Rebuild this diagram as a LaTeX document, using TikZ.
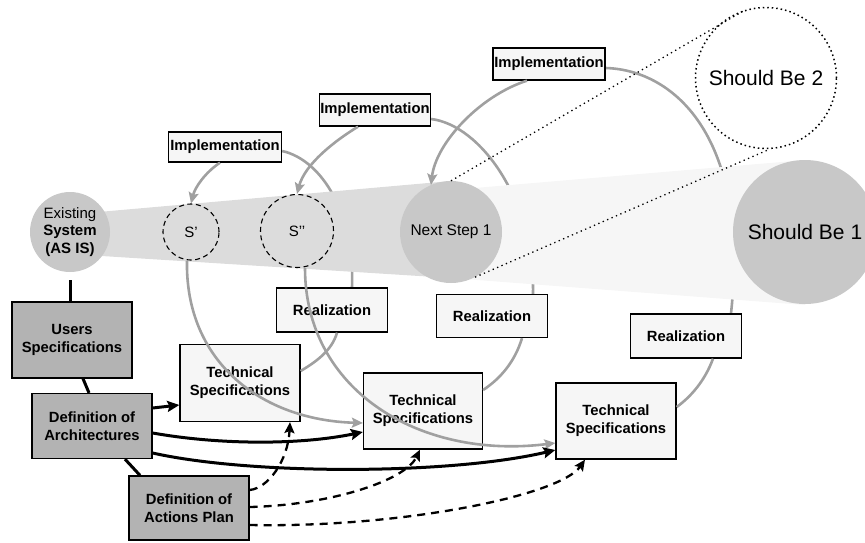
\documentclass[tikz,border=0pt]{standalone}
\usepackage{fontspec}
\setmainfont{Liberation Sans}
\usetikzlibrary{arrows.meta,calc}
\pgfdeclarelayer{under}
\pgfdeclarelayer{band}
\pgfsetlayers{under,band,main}
\definecolor{arcgray}{HTML}{A0A0A0}
\definecolor{boxfill}{HTML}{F6F6F6}
\definecolor{statefill}{HTML}{B3B3B3}
\definecolor{circfill}{HTML}{C8C8C8}
\definecolor{bandone}{HTML}{DCDCDC}
\definecolor{bandtwo}{HTML}{F6F6F6}
\tikzset{
  lbox/.style={draw=black, line width=1.3pt, fill=boxfill, inner sep=0pt, align=center, font=\fontsize{14.8}{18}\selectfont\bfseries},
  gbox/.style={lbox, fill=statefill},
  statec/.style={circle, fill=circfill, inner sep=0pt, align=center, font=\fontsize{15}{17.5}\selectfont},
  subc/.style={circle, draw=black, line width=1.1pt, dash pattern=on 5pt off 3.5pt, inner sep=0pt, font=\fontsize{15}{17.5}\selectfont},
  garc/.style={draw=arcgray, line width=2.6pt},
  garrow/.style={garc, -{Stealth[length=11pt,width=10pt,inset=2pt]}},
  blk/.style={draw=black, line width=3pt},
  barrow/.style={blk, -{Stealth[length=12pt,width=11pt,inset=2pt]}},
  dsh/.style={draw=black, line width=2.3pt, dash pattern=on 8pt off 6pt, -{Stealth[length=11pt,width=10pt,inset=2pt]}},
  dotl/.style={draw=black, line width=1.3pt, dash pattern=on 1.3pt off 3.5pt},
}
\begin{document}
\begin{tikzpicture}[x=1pt,y=-1pt]
\useasboundingbox (0,0) rectangle (865,542);
\clip (0,0) rectangle (865,542);

% circles
\node[statec, minimum size=80pt] (exist) at (70,232) {Existing\\\textbf{System}\\\textbf{(AS IS)}};
\node[subc, minimum size=56pt] (s1) at (191,232) {S’};
\node[subc, minimum size=73pt] (s2) at (297,231) {S’’};
\node[statec, minimum size=102pt, font=\fontsize{15.5}{18}\selectfont] (next) at (451,232) {Next Step 1};
\node[statec, minimum size=144pt, font=\fontsize{21}{24}\selectfont] (sb1) at (805,232) {Should Be 1};
\node[circle, draw=black, line width=1.5pt, dash pattern=on 1.5pt off 3pt, fill=white, minimum size=141pt, inner sep=0pt, font=\fontsize{21}{24}\selectfont] (sb2) at (766,78) {Should Be 2};

% bands
\begin{pgfonlayer}{band}
\fill[bandone] (70,214.5) -- (451,181) -- (451,278) -- (70,254) -- cycle;
\fill[bandtwo] (451,190) -- (805,160) -- (805,305) -- (451,278) -- cycle;
\end{pgfonlayer}

% boxes
\node[lbox, minimum width=113pt, minimum height=30pt] (impl1) at (225,147) {Implementation};
\node[lbox, minimum width=111pt, minimum height=32pt] (impl2) at (375,110) {Implementation};
\node[lbox, minimum width=112pt, minimum height=32pt] (impl3) at (549,64) {Implementation};
\node[lbox, minimum width=111pt, minimum height=44pt] (r1) at (332,310) {Realization};
\node[lbox, minimum width=111pt, minimum height=43pt] (r2) at (492,316) {Realization};
\node[lbox, minimum width=111pt, minimum height=44pt] (r3) at (686,336) {Realization};
\node[lbox, minimum width=120pt, minimum height=77pt] (t1) at (240,383) {Technical\\Specifications};
\node[lbox, minimum width=119pt, minimum height=76pt] (t2) at (423,411) {Technical\\Specifications};
\node[lbox, minimum width=120pt, minimum height=76pt] (t3) at (616,421) {Technical\\Specifications};
\node[gbox, minimum width=120pt, minimum height=76pt] (users) at (72,340) {Users\\Specifications};
\node[gbox, minimum width=120pt, minimum height=65pt] (arch) at (92,426) {Definition of\\Architectures};
\node[gbox, minimum width=120pt, minimum height=64pt] (plan) at (189,508) {Definition of\\Actions Plan};

% gray arcs hidden under bands
\begin{pgfonlayer}{under}
\draw[garc] ([yshift=-4pt]impl1.east) .. controls +(40,9) and +(3,-73) .. ([xshift=20pt]r1.north);
\draw[garc] ([yshift=-9pt]impl2.east) .. controls +(49,6) and +(2,-94) .. ([xshift=41pt]r2.north);
\draw[garc] ([yshift=-4pt]impl3.east) .. controls +(70,2) and +(19,-174) .. ([xshift=45pt]r3.north);
\end{pgfonlayer}

% gray arcs on top
\draw[garrow] ([xshift=-5pt]impl1.south) .. controls +(-15,10) and +(4,-16) .. (s1.north);
\draw[garrow] ([xshift=-17pt]impl2.south) .. controls +(-23,14) and +(8,-30) .. (s2.north);
\draw[garrow] ([xshift=-22pt]impl3.south) .. controls +(-47,15) and +(5,-42) .. (next.113);
\draw[garc] ([xshift=5pt]r1.south) .. controls +(-5,18) and +(15,-9) .. ([yshift=12pt]t1.east);
\draw[garc] ([xshift=30pt]r2.south) .. controls +(-7,23) and +(18,-12) .. ([yshift=21pt]t2.east);
\draw[garc] ([xshift=27pt]r3.south) .. controls +(-8,22) and +(14,-10) .. ([yshift=14pt]t3.east);
\draw[garrow] ([xshift=-4pt]s1.south) .. controls +(-2,100) and +(-103,-3) .. ([yshift=-12pt]t2.west);
\draw[garrow] ([xshift=8pt]s2.south) .. controls +(0,122) and +(-136,17) .. ([yshift=-22pt]t3.west);

% dotted tangent lines
\draw[dotl] (next.north) -- (sb2.107);
\draw[dotl] (next.-62) -- (sb2.-87);

% black connectors
\draw[blk, shorten <=8pt] (exist.south) -- (exist.south |- users.north);
\draw[blk] ([xshift=11pt]users.south) -- ([xshift=-3pt]arch.north);
\draw[blk] ([xshift=33pt]arch.south) -- ([xshift=-49pt]plan.north);
\draw[barrow] ([yshift=18pt]arch.east) -- ([yshift=-22pt]t1.west);
\draw[barrow] ([yshift=-7pt]arch.east) .. controls +(68,12) and +(-63,13) .. ([yshift=-21pt]t2.west);
\draw[barrow] ([yshift=-27pt]arch.east) .. controls +(98,22) and +(-106,25) .. ([yshift=-29pt]t3.west);
\draw[dsh] ([yshift=18pt]plan.east) .. controls +(19,-2) and +(-2,38) .. ([xshift=50pt]t1.south);
\draw[dsh] ([yshift=1pt]plan.east) .. controls +(81,-2) and +(-15,31) .. ([xshift=-3pt]t2.south);
\draw[dsh] ([yshift=-17pt]plan.east) .. controls +(151,3) and +(-25,36) .. ([xshift=-31pt]t3.south);
\end{tikzpicture}
\end{document}
